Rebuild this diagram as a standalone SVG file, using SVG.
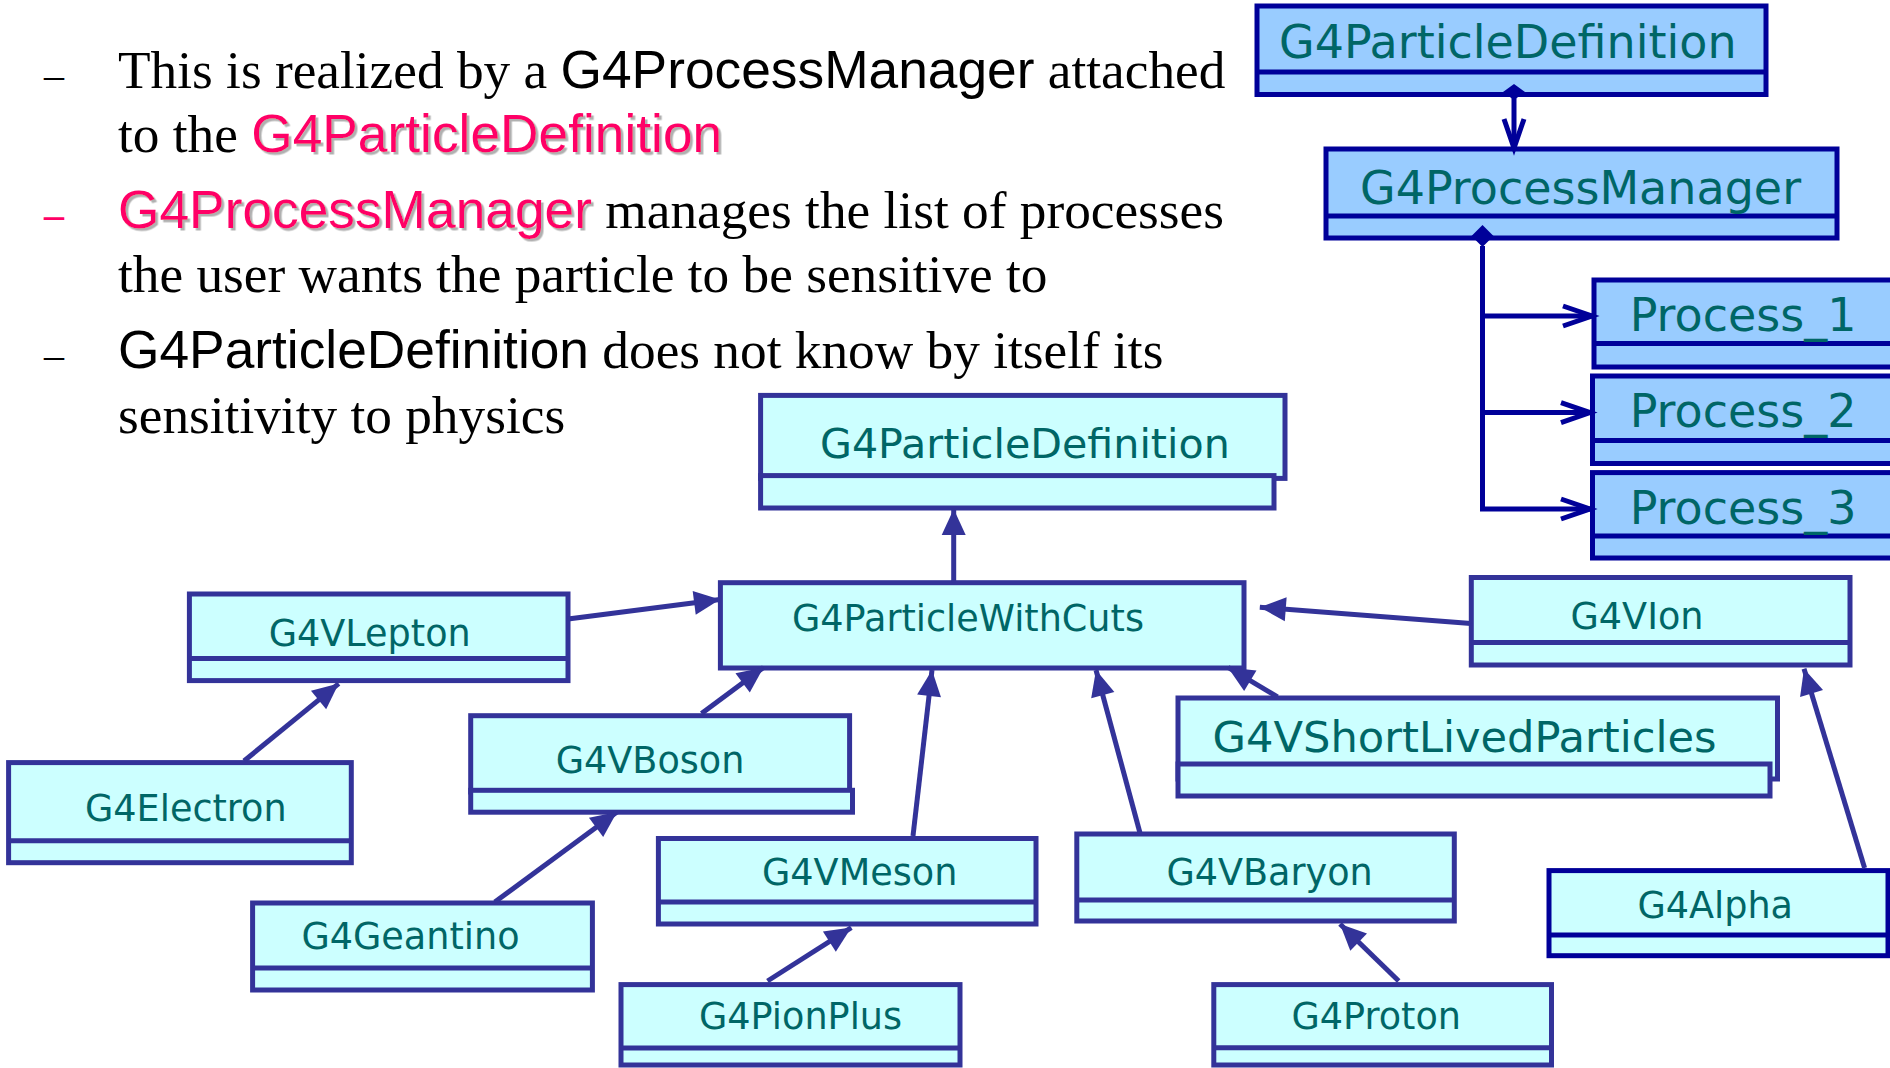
<svg xmlns="http://www.w3.org/2000/svg" width="1890" height="1068" viewBox="0 0 1890 1068">
<style>
.bx{fill:#99CCFF;stroke:#000099;stroke-width:5}
.cx{fill:#CCFFFF;stroke:#333399;stroke-width:5}
.cx2{fill:#CCFFFF;stroke:#000099;stroke-width:5}
.dv{stroke:#000099;stroke-width:5}
.dl{stroke:#333399;stroke-width:5}
.tl{font-family:"DejaVu Sans",sans-serif;font-size:46px;fill:#006666}
.ll{font-family:"DejaVu Sans",sans-serif;font-size:36.6px;fill:#006666}
.para{font-family:"Liberation Serif",serif;font-size:53.3px;fill:#000}
.sans{font-family:"Liberation Sans",sans-serif}
.pink{fill:#FF0066;filter:url(#sh)}
.dash{font-family:"Liberation Serif",serif;font-size:40px}
.cn{fill:none;stroke:#333399;stroke-width:5}
.cnt{fill:none;stroke:#000099;stroke-width:5}
</style>
<defs>
<filter id="sh" x="-5%" y="-20%" width="110%" height="140%">
<feDropShadow dx="2.5" dy="2.5" stdDeviation="0.6" flood-color="#B0B0B0" flood-opacity="1"/>
</filter>
<marker id="tri" markerUnits="userSpaceOnUse" markerWidth="28" markerHeight="26" refX="26" refY="12" orient="auto" overflow="visible">
<path d="M0,0 L26,12 L0,24 z" fill="#333399"/>
</marker>
<marker id="open" markerUnits="userSpaceOnUse" markerWidth="34" markerHeight="26" refX="30" refY="11" orient="auto" overflow="visible">
<path d="M1,1 L30,11 L1,21" fill="none" stroke="#000099" stroke-width="5"/>
</marker>
</defs>
<rect width="1890" height="1068" fill="#FFFFFF"/>

<g id="text-block">
<text class="dash" x="44" y="88">–</text>
<text class="para" x="118" y="88">This is realized by a <tspan class="sans">G4ProcessManager</tspan> attached</text>
<text class="para" x="118" y="152">to the <tspan class="sans pink">G4ParticleDefinition</tspan></text>
<text class="dash" x="44" y="228" fill="#FF0066" style="font-weight:bold">–</text>
<text class="para" x="118" y="228"><tspan class="sans pink">G4ProcessManager</tspan> manages the list of processes</text>
<text class="para" x="118" y="292">the user wants the particle to be sensitive to</text>
<text class="dash" x="44" y="368">–</text>
<text class="para" x="118" y="368"><tspan class="sans">G4ParticleDefinition</tspan> does not know by itself its</text>
<text class="para" x="118" y="433">sensitivity to physics</text>
</g>

<g id="top-G4ParticleDefinition">
<rect class="bx" x="1257" y="6" width="509" height="88.5"/>
<line class="dv" x1="1257" y1="72" x2="1766" y2="72"/>
<text class="tl" x="1279" y="58">G4ParticleDefinition</text>
</g>
<g id="top-G4ProcessManager">
<rect class="bx" x="1326" y="149" width="511" height="89"/>
<line class="dv" x1="1326" y1="216" x2="1837" y2="216"/>
<text class="tl" x="1360" y="203.6">G4ProcessManager</text>
</g>
<g id="Process_1">
<rect class="bx" x="1594" y="280" width="310" height="87"/>
<line class="dv" x1="1594" y1="343.5" x2="1904" y2="343.5"/>
<text class="tl" x="1629.7" y="331">Process_1</text>
</g>
<g id="Process_2">
<rect class="bx" x="1592.5" y="376" width="310" height="87.5"/>
<line class="dv" x1="1592.5" y1="440.6" x2="1904" y2="440.6"/>
<text class="tl" x="1629.7" y="427">Process_2</text>
</g>
<g id="Process_3">
<rect class="bx" x="1592.5" y="472.6" width="310" height="85.4"/>
<line class="dv" x1="1592.5" y1="536" x2="1904" y2="536"/>
<text class="tl" x="1629.7" y="523.5">Process_3</text>
</g>

<g id="G4ParticleDefinition">
<rect class="cx" x="760.6" y="395.4" width="524.4" height="83"/>
<rect class="cx" x="760.6" y="475.6" width="513.4" height="32.4"/>
<text class="ll" x="820" y="458" style="font-size:41.2px">G4ParticleDefinition</text>
</g>
<g id="G4ParticleWithCuts">
<rect class="cx" x="720.4" y="582.7" width="523.6" height="85.3"/>
<text class="ll" x="792" y="631">G4ParticleWithCuts</text>
</g>
<g id="G4VLepton">
<rect class="cx" x="189.4" y="594" width="378.6" height="86.6"/>
<line class="dl" x1="189.4" y1="658.6" x2="568" y2="658.6"/>
<text class="ll" x="268.7" y="645.5">G4VLepton</text>
</g>
<g id="G4Electron">
<rect class="cx" x="8.6" y="762.6" width="342.7" height="100.1"/>
<line class="dl" x1="8.6" y1="840.7" x2="351.3" y2="840.7"/>
<text class="ll" x="85" y="821">G4Electron</text>
</g>
<g id="G4VBoson">
<rect class="cx" x="470.7" y="715.7" width="378.9" height="76.3"/>
<rect class="cx" x="470.7" y="790.3" width="381.8" height="21.9"/>
<text class="ll" x="555.7" y="772.7">G4VBoson</text>
</g>
<g id="G4Geantino">
<rect class="cx" x="252.6" y="903" width="339.8" height="87"/>
<line class="dl" x1="252.6" y1="968" x2="592.4" y2="968"/>
<text class="ll" x="301.4" y="949">G4Geantino</text>
</g>
<g id="G4VMeson">
<rect class="cx" x="658.4" y="838.5" width="377.6" height="85.5"/>
<line class="dl" x1="658.4" y1="902" x2="1036" y2="902"/>
<text class="ll" x="762" y="885">G4VMeson</text>
</g>
<g id="G4PionPlus">
<rect class="cx" x="621" y="984.6" width="339" height="80.4"/>
<line class="dl" x1="621" y1="1048" x2="960" y2="1048"/>
<text class="ll" x="699" y="1028.5">G4PionPlus</text>
</g>
<g id="G4VBaryon">
<rect class="cx" x="1076.8" y="834" width="377.5" height="87"/>
<line class="dl" x1="1076.8" y1="900" x2="1454.3" y2="900"/>
<text class="ll" x="1166.4" y="884.6">G4VBaryon</text>
</g>
<g id="G4Proton">
<rect class="cx" x="1213.8" y="984.6" width="337.7" height="80.4"/>
<line class="dl" x1="1213.8" y1="1047.8" x2="1551.5" y2="1047.8"/>
<text class="ll" x="1291.4" y="1028.5">G4Proton</text>
</g>
<g id="G4VIon">
<rect class="cx" x="1471.3" y="577.5" width="378.7" height="87.5"/>
<line class="dl" x1="1471.3" y1="642.4" x2="1850" y2="642.4"/>
<text class="ll" x="1570.5" y="629">G4VIon</text>
</g>
<g id="G4VShortLivedParticles">
<rect class="cx" x="1178" y="698" width="599.5" height="81"/>
<rect class="cx" x="1178" y="764" width="592" height="32"/>
<text class="ll" x="1212.5" y="752" style="font-size:43.2px">G4VShortLivedParticles</text>
</g>
<g id="G4Alpha">
<rect class="cx2" x="1549" y="870.6" width="339" height="85.1"/>
<line class="dv" x1="1549" y1="935" x2="1888" y2="935"/>
<text class="ll" x="1637.4" y="917.5">G4Alpha</text>
</g>

<g id="connectors">
<polygon points="1514,84 1525,92 1514,100 1503,92" fill="#000099"/>
<path class="cnt" d="M1514,98 V148" marker-end="url(#open)"/>
<polygon points="1482.5,225 1493.5,236 1482.5,247 1471.5,236" fill="#000099"/>
<path class="cnt" d="M1482.5,246 V509"/>
<path class="cnt" d="M1482.5,316 H1592" marker-end="url(#open)"/>
<path class="cnt" d="M1482.5,412.6 H1590" marker-end="url(#open)"/>
<path class="cnt" d="M1480,509 H1590" marker-end="url(#open)"/>
<path class="cn" d="M568,619 L720,599.5" marker-end="url(#tri)"/>
<path class="cn" d="M244,761 L338.7,683.6" marker-end="url(#tri)"/>
<path class="cn" d="M701.5,713.5 L763.5,667.4" marker-end="url(#tri)"/>
<path class="cn" d="M494.8,902 L617,812" marker-end="url(#tri)"/>
<path class="cn" d="M767.5,981 L851.3,927.6" marker-end="url(#tri)"/>
<path class="cn" d="M913,836 L932,670" marker-end="url(#tri)"/>
<path class="cn" d="M1140,833 L1096,670" marker-end="url(#tri)"/>
<path class="cn" d="M1277.5,697 L1228,667.4" marker-end="url(#tri)"/>
<path class="cn" d="M1471,623.5 L1259.8,607.3" marker-end="url(#tri)"/>
<path class="cn" d="M953.7,582.7 L953.7,509" marker-end="url(#tri)"/>
<path class="cn" d="M1398.7,981 L1340,924" marker-end="url(#tri)"/>
<path class="cn" d="M1864.6,868 L1804,668.7" marker-end="url(#tri)"/>
</g>
</svg>
